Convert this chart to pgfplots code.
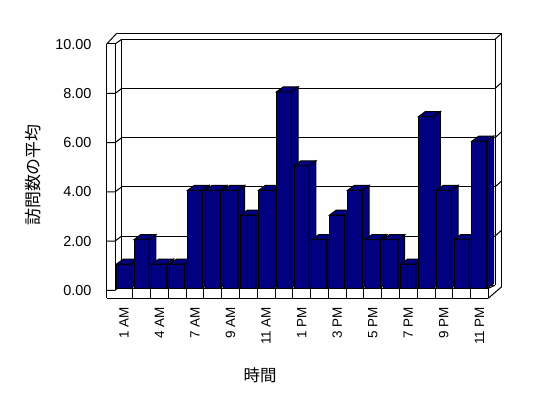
\documentclass[border=0pt]{standalone}
\usepackage{pgfplots}
\pgfplotsset{compat=1.18}
\usepackage{fontspec}
\setmainfont{Liberation Sans}
\newfontfamily\jp{Noto Sans CJK JP}
\definecolor{barblue}{HTML}{000080}

% 3D column mark: origin = back top of the column (value on back wall)
\pgfdeclareplotmark{bar3d}{%
  \pgfmathsetmacro\yb{-(\barval*24.6+3)}%
  \pgfmathsetmacro\ybb{\yb+5}%
  % front face
  \pgfpathmoveto{\pgfpoint{-14.2bp}{\yb bp}}%
  \pgfpathlineto{\pgfpoint{0.8bp}{\yb bp}}%
  \pgfpathlineto{\pgfpoint{0.8bp}{-3.5bp}}%
  \pgfpathlineto{\pgfpoint{-14.2bp}{-3.5bp}}%
  \pgfpathclose
  \pgfusepath{fill,stroke}%
  % top face
  \pgfpathmoveto{\pgfpoint{-14.2bp}{-3.5bp}}%
  \pgfpathlineto{\pgfpoint{0.8bp}{-3.5bp}}%
  \pgfpathlineto{\pgfpoint{7.5bp}{1.5bp}}%
  \pgfpathlineto{\pgfpoint{-7.5bp}{1.5bp}}%
  \pgfpathclose
  \pgfusepath{fill,stroke}%
  % side face
  \pgfpathmoveto{\pgfpoint{0.8bp}{\yb bp}}%
  \pgfpathlineto{\pgfpoint{0.8bp}{-3.5bp}}%
  \pgfpathlineto{\pgfpoint{7.5bp}{1.5bp}}%
  \pgfpathlineto{\pgfpoint{7.5bp}{\ybb bp}}%
  \pgfpathclose
  \pgfusepath{fill,stroke}%
}

\begin{document}
\begin{tikzpicture}
% ---- frame (image pixel coordinates; axis box south west is at (0,0)) ----
\begin{scope}[x=1bp, y=-1bp, shift={(-121.7,-285.3)}, line width=1bp]
  % back wall slab
  \draw (116.7,33.3) -- (501.7,33.3) -- (501.7,286.7);
  \draw (121.7,39.3) -- (495,39.3) -- (495,285.3);
  \draw (495,39.3) -- (501.7,33.3);
  \foreach \v in {2,4,6,8} \draw (495,285.3-24.6*\v) -- (501.7,279.3-24.6*\v);
  \draw (121.7,39.3) -- (121.7,285.3);
  % left wall slab
  \draw (106.7,44) -- (106.7,298.3);
  \draw (115,44) -- (115,288.3);
  \draw (106.7,44) -- (115,44);
  \draw (106.7,44) -- (116.7,33.3);
  \draw (115,44) -- (121.7,39.3);
  \foreach \v in {0,2,4,6,8} \draw (106.7,290.3-24.6*\v) -- (115,290.3-24.6*\v) -- (121.7,285.3-24.6*\v);
  % floor slab
  \draw (115,288.3) -- (488.3,288.3);
  \draw (106.7,298.3) -- (488.3,298.3);
  \draw (488.3,288.3) -- (488.3,298.3);
  \draw (488.3,298.3) -- (501.7,286.7);
  \draw (488.3,288.3) -- (495,285.3);
  \foreach \k in {1,...,20} \draw (115+17.78*\k,288.3) -- (115+17.78*\k,298.3);
  % axis titles
  \node[rotate=90, font=\jp\fontsize{17}{20}\selectfont] at (33,175) {訪問数の平均};
  \node[font=\jp\fontsize{16.5}{20}\selectfont] at (260,375) {時間};
\end{scope}
\begin{axis}[
  name=ax,
  at={(0,0)}, anchor=south west,
  scale only axis,
  width=373.3bp, height=246bp,
  xmin=-0.5, xmax=20.5, ymin=0, ymax=10,
  clip=false,
  axis line style={draw=none},
  major tick length=0pt,
  ytick={0,2,...,10},
  yticklabels={0.00,2.00,4.00,6.00,8.00,10.00},
  ymajorgrids,
  grid style={black, line width=1bp},
  xtick={-0.377,1.623,3.623,5.623,7.623,9.623,11.623,13.623,15.623,17.623,19.623},
  xticklabels={1 AM,4 AM,7 AM,9 AM,11 AM,1 PM,3 PM,5 PM,7 PM,9 PM,11 PM},
  xticklabel style={rotate=90, anchor=east, inner sep=0pt, font=\fontsize{13.5}{15}\selectfont},
  xticklabel shift=21.4bp,
  yticklabel style={anchor=east, inner sep=0pt, yshift=-5bp, font=\fontsize{14.5}{16}\selectfont},
  yticklabel shift=30bp,
  /pgf/number format/assume math mode=true,
]
\addplot[scatter, only marks, mark=bar3d,
  scatter/@pre marker code/.code={\pgfsetfillcolor{barblue}\pgfsetstrokecolor{black}\pgfsetlinewidth{1bp}},
  scatter/@post marker code/.code={},
  visualization depends on={\thisrow{y}\as\barval}]
table {
x y
0 1
1 2
2 1
3 1
4 4
5 4
6 4
7 3
8 4
9 8
10 5
11 2
12 3
13 4
14 2
15 2
16 1
17 7
18 4
19 2
20 6
};
\end{axis}
\pgfresetboundingbox
\path[use as bounding box] (-121.7bp,-112.7bp) rectangle (426.3bp,285.3bp);
\end{tikzpicture}
\end{document}
